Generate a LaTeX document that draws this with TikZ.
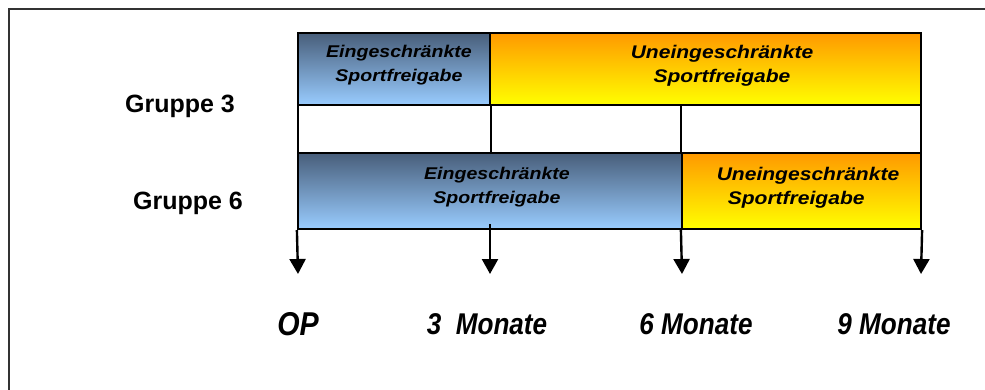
\documentclass[tikz,border=0pt]{standalone}
\usepackage{fontspec}
\setmainfont{Liberation Sans}
\newfontfamily\barfont[FakeStretch=1.15]{Liberation Sans}
\newfontfamily\labfont[FakeStretch=0.87]{Liberation Sans}
\usetikzlibrary{arrows.meta}
\definecolor{bluetop}{RGB}{72,94,122}
\definecolor{bluebot}{RGB}{153,204,255}
\definecolor{orgtop}{RGB}{255,153,0}
\definecolor{orgbot}{RGB}{255,255,0}
\tikzset{
  bar/.style={draw=black, line width=2.2pt, inner sep=0pt},
  bluebar/.style={bar, top color=bluetop, bottom color=bluebot},
  orgbar/.style={bar, top color=orgtop, bottom color=orgbot},
  rowbox/.style={bar, fill=white},
  bluetxt/.style={font=\barfont\bfseries\itshape\fontsize{17}{24}\selectfont, align=center, inner sep=0pt},
  orgtxt/.style={font=\barfont\bfseries\itshape\fontsize{18.3}{24}\selectfont, align=center, inner sep=0pt},
  grp/.style={font=\bfseries\fontsize{25}{30}\selectfont, inner sep=0pt},
  lab/.style={font=\labfont\bfseries\itshape\fontsize{30}{34}\selectfont, inner sep=0pt},
  tick/.style={line width=2.4pt, -{Triangle[width=16pt,length=15pt]}},
  sep/.style={line width=2.2pt},
  frame/.style={line width=2pt, draw=black!80}
}
\begin{document}
\begin{tikzpicture}[x=1pt,y=-1pt]
\useasboundingbox (0,0) rectangle (985,390);
% frame (top and left edges visible)
\draw[frame] (9,392) -- (9,9) -- (988,9);
% white row
\node[rowbox, minimum width=623pt, minimum height=48pt] (row) at (609.5,129) {};
% Gruppe 3 bars
\node[bluebar, minimum width=192pt, minimum height=72pt] (g3a) at (394,69) {};
\node[orgbar, minimum width=431pt, minimum height=72pt] (g3b) at (705.5,69) {};
% Gruppe 6 bars
\node[bluebar, minimum width=384pt, minimum height=76pt] (g6a) at (490,191) {};
\node[orgbar, minimum width=239pt, minimum height=76pt] (g6b) at (801.5,191) {};
% separators in white row
\draw[sep] (g3a.south east) -- (g3a.south east |- g6a.north);
\draw[sep] (g6b.north west) -- (g6b.north west |- g3b.south);
% tick coordinates
\coordinate (t0) at (298,274);
\coordinate (t3) at (490,274);
\coordinate (t6) at (682,274);
\coordinate (t9) at (921,274);
\draw[tick] (g6a.south west) -- (t0);
\draw[tick] (490,224) -- (t3);
\draw[tick] (g6b.south west) -- (t6);
\draw[tick] (g6b.south east) -- (t9);
% bar texts
\node[bluetxt] (txa) at (399,65) {Eingeschränkte\\Sportfreigabe};
\node[orgtxt] (txb) at (722,66) {Uneingeschränkte\\Sportfreigabe};
\node[bluetxt] (txc) at (497,187) {Eingeschränkte\\Sportfreigabe};
\node[orgtxt, align=left] (txd) at (808,188) {Uneingeschränkte\\\hspace*{11pt}Sportfreigabe};
% group labels
\node[grp] (grp3) at (180,106) {Gruppe 3};
\node[grp] (grp6) at (188,203) {Gruppe 6};
% time labels
\node[lab, font=\labfont\bfseries\itshape\fontsize{33}{36}\selectfont] (l0) at (298,324) {OP};
\node[lab] (l3) at (487,324) {3\ \ Monate};
\node[lab] (l6) at (696,324) {6 Monate};
\node[lab] (l9) at (894,324) {9 Monate};
\end{tikzpicture}
\end{document}
